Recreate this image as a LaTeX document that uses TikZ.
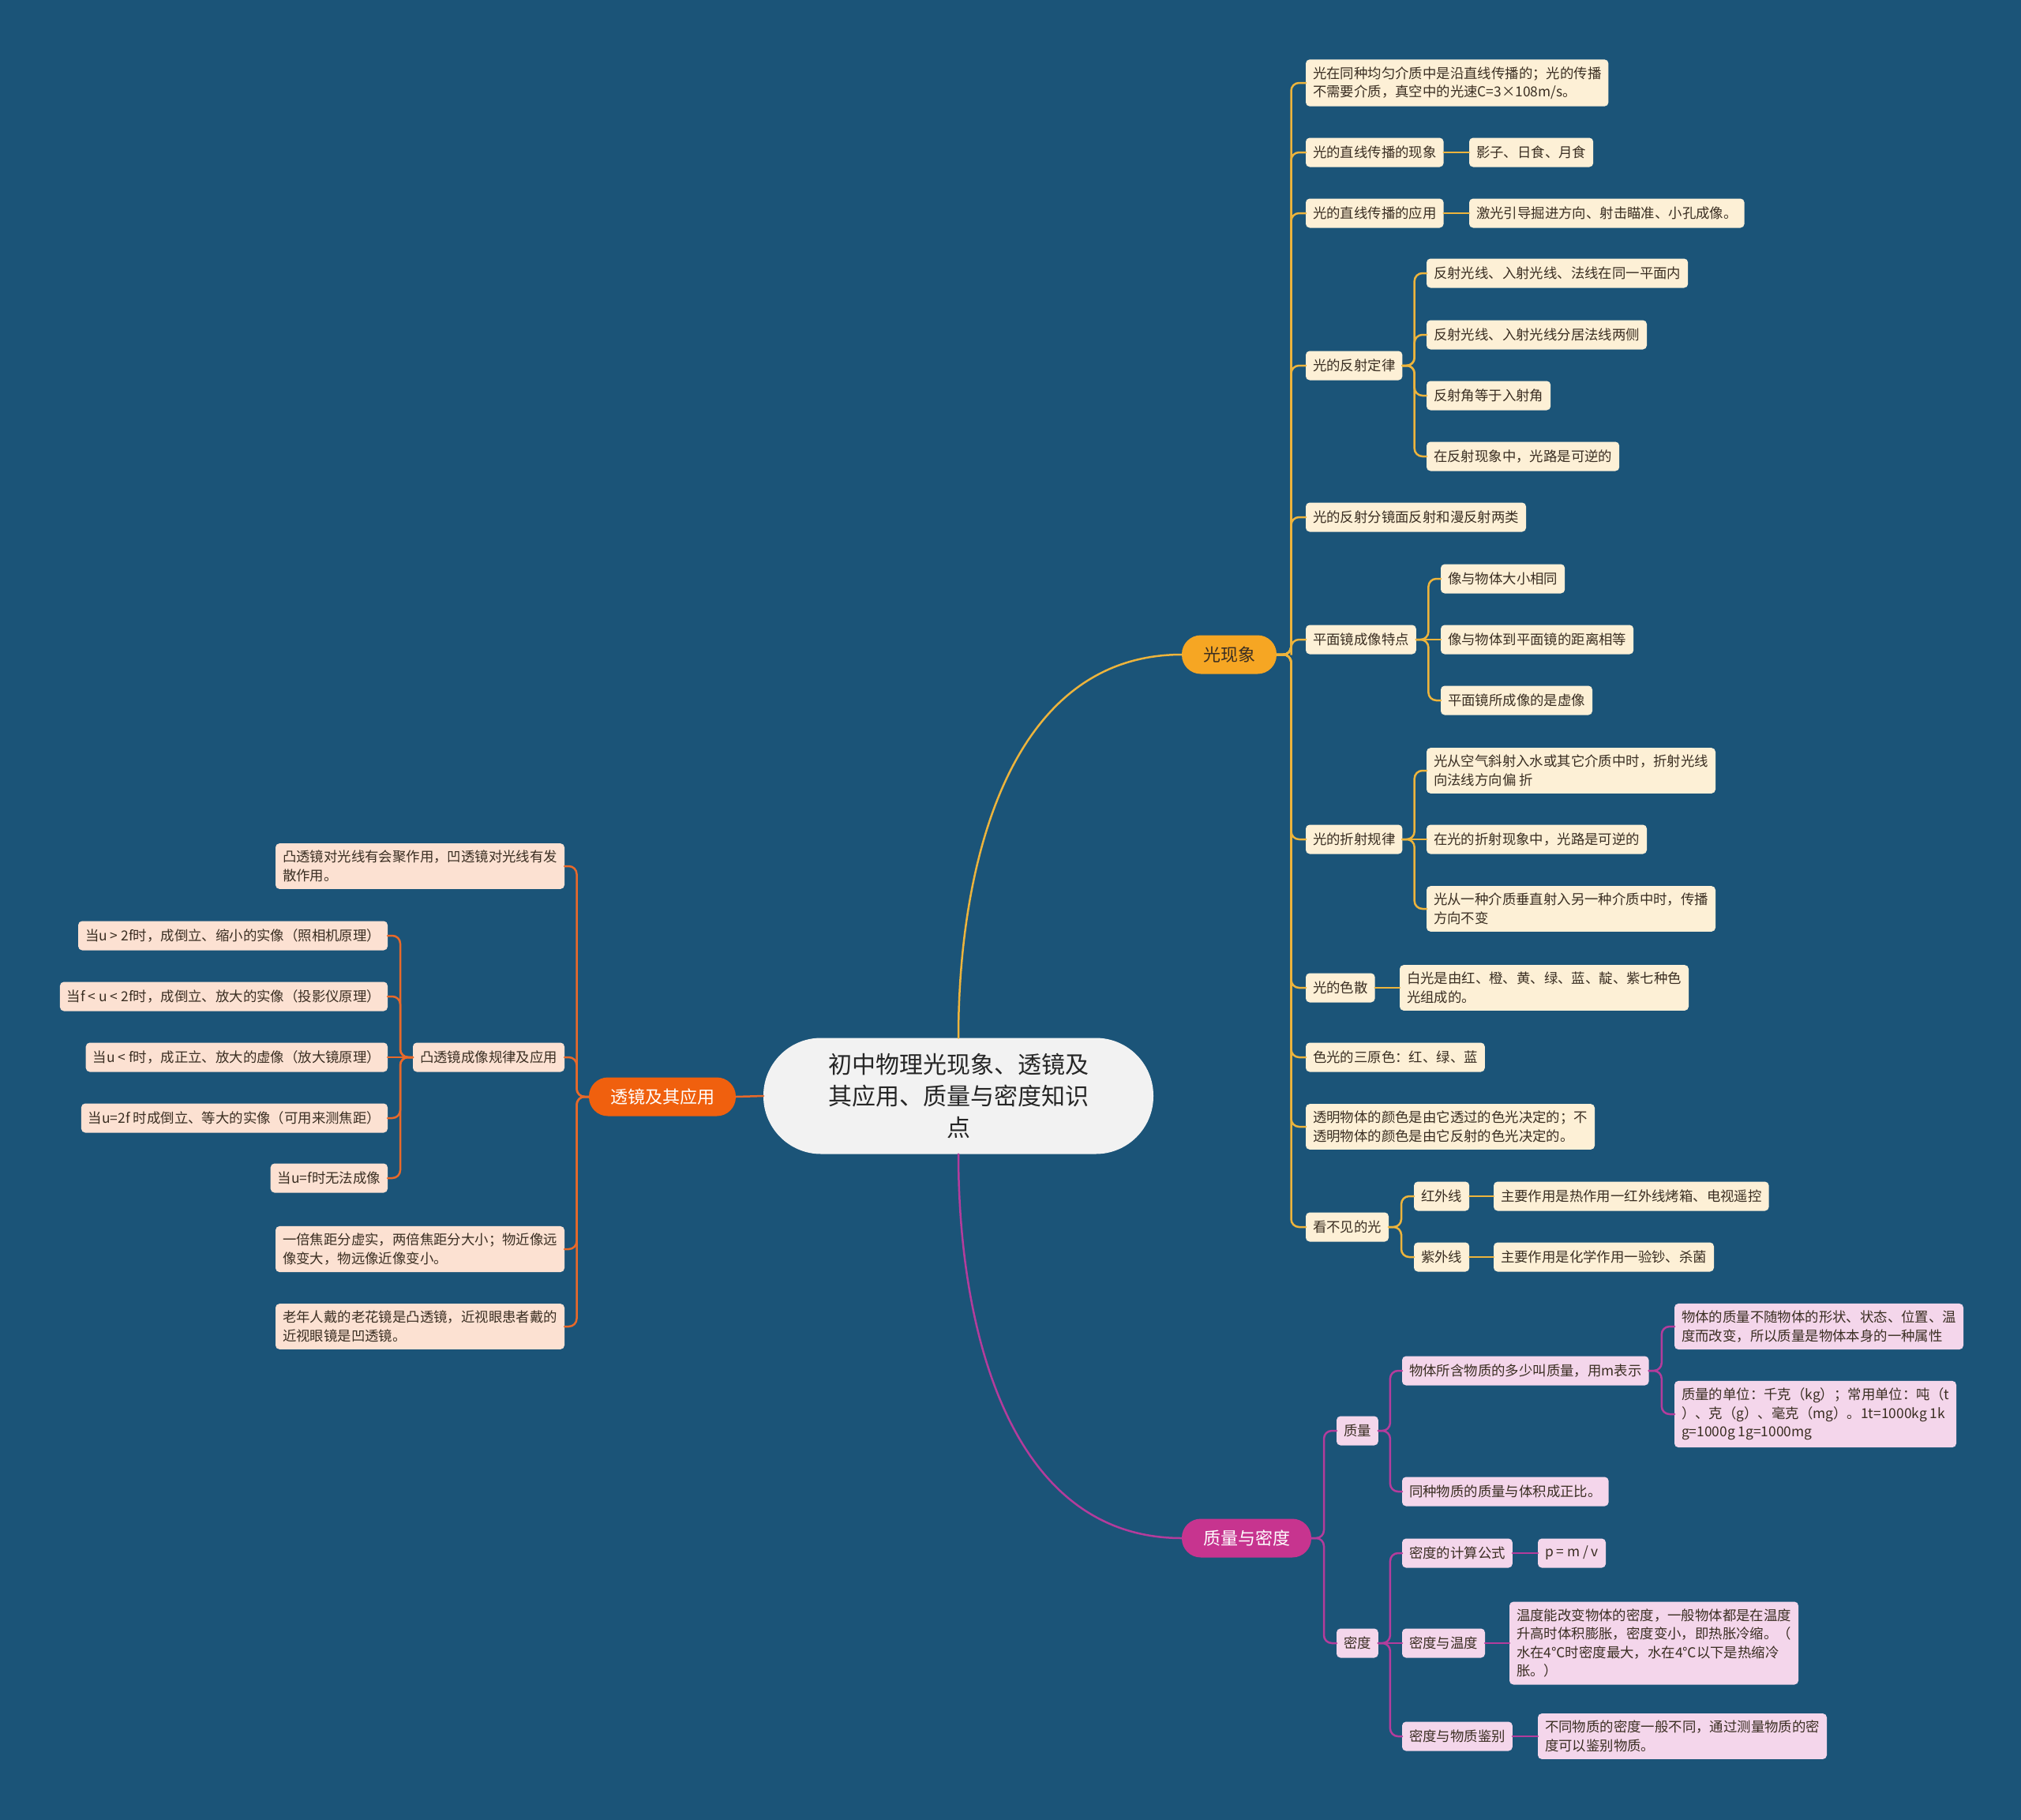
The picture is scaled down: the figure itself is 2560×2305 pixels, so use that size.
\documentclass[tikz,border=0pt]{standalone}
\usepackage{fontspec}
\setmainfont{Noto Sans CJK SC}
\usetikzlibrary{calc}
\definecolor{mindBg}{HTML}{1B5478}
\definecolor{mindRoot}{HTML}{F2F2F2}
\definecolor{mindInk}{HTML}{3A2E22}
\definecolor{lightGold}{HTML}{F6A623}
\definecolor{lightLine}{HTML}{EDB43C}
\definecolor{lightLeaf}{HTML}{FDF0D6}
\definecolor{lensOrange}{HTML}{F0600E}
\definecolor{lensLine}{HTML}{E8692A}
\definecolor{lensLeaf}{HTML}{FCE1D2}
\definecolor{massPink}{HTML}{C7348F}
\definecolor{massLine}{HTML}{B43C9C}
\definecolor{massLeaf}{HTML}{F4D6EB}
\tikzset{
  mind map/.style={x=1pt, y=-1pt, line cap=round,
    every node/.style={inner sep=0pt, outer sep=0pt}},
  mind root/.style={fill=mindRoot, text=black!85, rounded corners=73pt,
    minimum width=494pt, minimum height=147pt, align=center,
    font=\fontsize{30}{40}\selectfont},
  mind main/.style={rounded corners=24pt, minimum height=49pt,
    inner xsep=27pt, font=\fontsize{22}{26}\selectfont},
  mind leaf/.style={rounded corners=5pt, inner xsep=9pt, inner ysep=9pt,
    minimum height=37pt, align=left, text=mindInk,
    font=\fontsize{17.4}{23.5}\selectfont},
  mind elbow/.style={
    to path={-| ($(\tikztostart)!.5!(\tikztotarget)$) |- (\tikztotarget)}},
  light main/.style={mind main, fill=lightGold, text=mindInk},
  lens main/.style={mind main, fill=lensOrange, text=white},
  mass main/.style={mind main, fill=massPink, text=white},
  light leaf/.style={mind leaf, fill=lightLeaf},
  lens leaf/.style={mind leaf, fill=lensLeaf},
  mass leaf/.style={mind leaf, fill=massLeaf},
  light link/.style={draw=lightLine, line width=2.5pt, rounded corners=10pt},
  lens link/.style={draw=lensLine, line width=2.5pt, rounded corners=10pt},
  mass link/.style={draw=massLine, line width=2.5pt, rounded corners=10pt}
}

\begin{document}
\begin{tikzpicture}[mind map]
  \fill[mindBg] (0,0) rectangle (2560,2305);
  \useasboundingbox (0,0) rectangle (2560,2305);

  \node[mind root] (root) at (1214,1388)
    {初中物理光现象、透镜及\\其应用、质量与密度知识\\点};

  \node[light main, anchor=west] (light) at (1497,829) {光现象};
  \node[light leaf, anchor=west] (l1) at (1654,105)
    {光在同种均匀介质中是沿直线传播的；光的传播\\不需要介质，真空中的光速C=3×108m/s。};
  \node[light leaf, anchor=west] (l2) at (1654,193) {光的直线传播的现象};
  \node[light leaf, anchor=west] (l2a) at (1861,193) {影子、日食、月食};
  \node[light leaf, anchor=west] (l3) at (1654,270) {光的直线传播的应用};
  \node[light leaf, anchor=west] (l3a) at (1861,270) {激光引导掘进方向、射击瞄准、小孔成像。};
  \node[light leaf, anchor=west] (l4) at (1654,463) {光的反射定律};
  \node[light leaf, anchor=west] (l4a) at (1807,346) {反射光线、入射光线、法线在同一平面内};
  \node[light leaf, anchor=west] (l4b) at (1807,424) {反射光线、入射光线分居法线两侧};
  \node[light leaf, anchor=west] (l4c) at (1807,501) {反射角等于入射角};
  \node[light leaf, anchor=west] (l4d) at (1807,578) {在反射现象中，光路是可逆的};
  \node[light leaf, anchor=west] (l5) at (1654,655) {光的反射分镜面反射和漫反射两类};
  \node[light leaf, anchor=west] (l6) at (1654,810) {平面镜成像特点};
  \node[light leaf, anchor=west] (l6a) at (1825,733) {像与物体大小相同};
  \node[light leaf, anchor=west] (l6b) at (1825,810) {像与物体到平面镜的距离相等};
  \node[light leaf, anchor=west] (l6c) at (1825,887) {平面镜所成像的是虚像};
  \node[light leaf, anchor=west] (l7) at (1654,1063) {光的折射规律};
  \node[light leaf, anchor=west] (l7a) at (1807,976)
    {光从空气斜射入水或其它介质中时，折射光线\\向法线方向偏 折};
  \node[light leaf, anchor=west] (l7b) at (1807,1063) {在光的折射现象中，光路是可逆的};
  \node[light leaf, anchor=west] (l7c) at (1807,1151)
    {光从一种介质垂直射入另一种介质中时，传播\\方向不变};
  \node[light leaf, anchor=west] (l8) at (1654,1251) {光的色散};
  \node[light leaf, anchor=west] (l8a) at (1773,1251)
    {白光是由红、橙、黄、绿、蓝、靛、紫七种色\\光组成的。};
  \node[light leaf, anchor=west] (l9) at (1654,1339) {色光的三原色：红、绿、蓝};
  \node[light leaf, anchor=west] (l10) at (1654,1427)
    {透明物体的颜色是由它透过的色光决定的；不\\透明物体的颜色是由它反射的色光决定的。};
  \node[light leaf, anchor=west] (l11) at (1654,1554) {看不见的光};
  \node[light leaf, anchor=west] (l11a) at (1791,1515) {红外线};
  \node[light leaf, anchor=west] (l11b) at (1791,1592) {紫外线};
  \node[light leaf, anchor=west] (l11c) at (1892,1515) {主要作用是热作用一红外线烤箱、电视遥控};
  \node[light leaf, anchor=west] (l11d) at (1892,1592) {主要作用是化学作用一验钞、杀菌};

  \node[lens main, anchor=east] (lens) at (932,1389) {透镜及其应用};
  \node[lens leaf, anchor=east] (s1) at (715,1097)
    {凸透镜对光线有会聚作用，凹透镜对光线有发\\散作用。};
  \node[lens leaf, anchor=east] (s2) at (715,1339) {凸透镜成像规律及应用};
  \node[lens leaf, anchor=east] (s3) at (715,1582)
    {一倍焦距分虚实，两倍焦距分大小；物近像远\\像变大，物远像近像变小。};
  \node[lens leaf, anchor=east] (s4) at (715,1680)
    {老年人戴的老花镜是凸透镜，近视眼患者戴的\\近视眼镜是凹透镜。};
  \node[lens leaf, anchor=east] (s2a) at (491,1185) {当u > 2f时，成倒立、缩小的实像（照相机原理）};
  \node[lens leaf, anchor=east] (s2b) at (491,1262) {当f < u < 2f时，成倒立、放大的实像（投影仪原理）};
  \node[lens leaf, anchor=east] (s2c) at (491,1339) {当u < f时，成正立、放大的虚像（放大镜原理）};
  \node[lens leaf, anchor=east] (s2d) at (491,1416) {当u=2f 时成倒立、等大的实像（可用来测焦距）};
  \node[lens leaf, anchor=east] (s2e) at (491,1492) {当u=f时无法成像};

  \node[mass main, anchor=west] (mass) at (1497,1948) {质量与密度};
  \node[mass leaf, anchor=west] (m1) at (1693,1812) {质量};
  \node[mass leaf, anchor=west] (m2) at (1693,2081) {密度};
  \node[mass leaf, anchor=west] (m1a) at (1776,1736) {物体所含物质的多少叫质量，用m表示};
  \node[mass leaf, anchor=west] (m1b) at (1776,1889) {同种物质的质量与体积成正比。};
  \node[mass leaf, anchor=west] (m1a1) at (2121,1680)
    {物体的质量不随物体的形状、状态、位置、温\\度而改变，所以质量是物体本身的一种属性};
  \node[mass leaf, anchor=west] (m1a2) at (2121,1791)
    {质量的单位：千克（kg）；常用单位：吨（t\\）、克（g）、毫克（mg）。1t=1000kg 1k\\g=1000g 1g=1000mg};
  \node[mass leaf, anchor=west] (m2a) at (1776,1967) {密度的计算公式};
  \node[mass leaf, anchor=west] (m2b) at (1776,2081) {密度与温度};
  \node[mass leaf, anchor=west] (m2c) at (1776,2199) {密度与物质鉴别};
  \node[mass leaf, anchor=west] (m2a1) at (1948,1967) {p = m / v};
  \node[mass leaf, anchor=west] (m2b1) at (1912,2081)
    {温度能改变物体的密度，一般物体都是在温度\\升高时体积膨胀，密度变小，即热胀冷缩。（\\水在4℃时密度最大，水在4℃以下是热缩冷\\胀。）};
  \node[mass leaf, anchor=west] (m2c1) at (1948,2199)
    {不同物质的密度一般不同，通过测量物质的密\\度可以鉴别物质。};

  \draw[light link] (root.north) to[out=90,in=180] (light.west);
  \draw[mass link] (root.south) to[out=-90,in=180] (mass.west);
  \draw[lens link] (root.west) -- (lens.east);

  \foreach \k in {1,...,11}
    \draw[light link] (light.east) to[mind elbow] (l\k.west);
  \draw[light link] (l2.east) -- (l2a.west);
  \draw[light link] (l3.east) -- (l3a.west);
  \foreach \k in {a,b,c,d}
    \draw[light link] (l4.east) to[mind elbow] (l4\k.west);
  \foreach \k in {a,c} {
    \draw[light link] (l6.east) to[mind elbow] (l6\k.west);
    \draw[light link] (l7.east) to[mind elbow] (l7\k.west);
  }
  \draw[light link] (l6.east) -- (l6b.west);
  \draw[light link] (l7.east) -- (l7b.west);
  \draw[light link] (l8.east) -- (l8a.west);
  \foreach \k in {a,b}
    \draw[light link] (l11.east) to[mind elbow] (l11\k.west);
  \draw[light link] (l11a.east) -- (l11c.west);
  \draw[light link] (l11b.east) -- (l11d.west);

  \foreach \k in {1,...,4}
    \draw[lens link] (lens.west) to[mind elbow] (s\k.east);
  \foreach \k in {a,b,d,e}
    \draw[lens link] (s2.west) to[mind elbow] (s2\k.east);
  \draw[lens link] (s2.west) -- (s2c.east);

  \foreach \k in {1,2}
    \draw[mass link] (mass.east) to[mind elbow] (m\k.west);
  \foreach \k in {a,b} {
    \draw[mass link] (m1.east) to[mind elbow] (m1\k.west);
  }
  \draw[mass link] (m1a.east) to[mind elbow] (m1a1.west);
  \draw[mass link] (m1a.east) to[mind elbow] (m1a2.west);
  \foreach \k in {a,c}
    \draw[mass link] (m2.east) to[mind elbow] (m2\k.west);
  \draw[mass link] (m2.east) -- (m2b.west);
  \foreach \k in {a,b,c}
    \draw[mass link] (m2\k.east) -- (m2\k1.west);
\end{tikzpicture}
\end{document}
